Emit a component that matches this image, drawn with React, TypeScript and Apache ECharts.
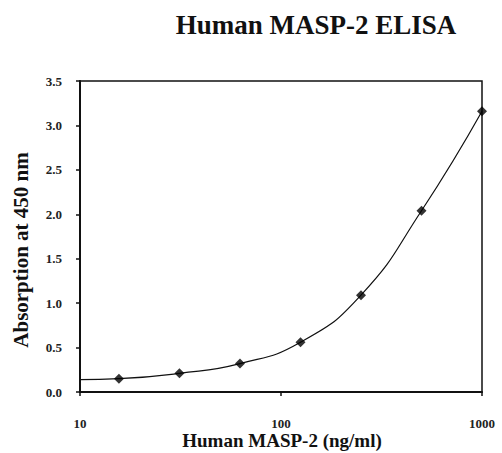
import React, { useEffect, useRef } from "react";
import * as echarts from "echarts";

const concentrations = [15.625, 31.25, 62.5, 125, 250, 500, 1000];
const absorbance = [0.15, 0.21, 0.32, 0.56, 1.09, 2.04, 3.16];
const fitStart = [10, 0.14];
const yTicks = ["0.0", "0.5", "1.0", "1.5", "2.0", "2.5", "3.0", "3.5"];
const xTicks = [10, 100, 1000];
const titleText = "Human MASP-2 ELISA";
const xName = "Human MASP-2 (ng/ml)";
const yName = "Absorption at 450 nm";

export default function App() {
  const ref = useRef<HTMLDivElement>(null);
  useEffect(() => {
    if (!ref.current) return;
    const chart = echarts.init(ref.current, null, { renderer: "svg" });
    const points = concentrations.map((c, i) => [c, absorbance[i]]);
    const serif = "'Liberation Serif', 'Times New Roman', serif";
    chart.setOption({
      animation: false,
      backgroundColor: "#ffffff",
      grid: {
        left: 80,
        right: 20,
        top: 81,
        bottom: 61,
        show: true,
        borderColor: "#111",
        borderWidth: 1.5,
        backgroundColor: "transparent",
      },
      xAxis: {
        type: "log",
        logBase: 10,
        min: xTicks[0],
        max: xTicks[xTicks.length - 1],
        axisLine: { show: true, lineStyle: { color: "#111", width: 2 } },
        axisTick: { show: true, inside: false, length: 4, lineStyle: { color: "#111", width: 1.5 } },
        minorTick: { show: false },
        splitLine: { show: false },
        axisLabel: {
          margin: 25,
          fontFamily: serif,
          fontSize: 13,
          fontWeight: "bold",
          color: "#222",
          formatter: (v: number) => String(Math.round(v)),
        },
      },
      yAxis: {
        type: "value",
        min: 0,
        max: 3.5,
        interval: 0.5,
        axisLine: { show: true, lineStyle: { color: "#111", width: 2 } },
        axisTick: { show: true, inside: false, length: 4, lineStyle: { color: "#111", width: 1.5 } },
        splitLine: { show: false },
        axisLabel: {
          margin: 18,
          fontFamily: serif,
          fontSize: 13,
          fontWeight: "bold",
          color: "#222",
          formatter: (v: number) => yTicks[Math.round(v / 0.5)] ?? v.toFixed(1),
        },
      },
      graphic: [
        {
          type: "text",
          x: 316,
          y: 25,
          style: {
            text: titleText,
            textAlign: "center",
            textVerticalAlign: "middle",
            font: `bold 27px ${serif}`,
            fill: "#111",
          },
        },
        {
          type: "text",
          x: 282,
          y: 440,
          style: {
            text: xName,
            textAlign: "center",
            textVerticalAlign: "middle",
            font: `bold 19px ${serif}`,
            fill: "#111",
          },
        },
        {
          type: "text",
          x: 21,
          y: 250,
          rotation: Math.PI / 2,
          style: {
            text: yName,
            textAlign: "center",
            textVerticalAlign: "middle",
            font: `bold 21px ${serif}`,
            fill: "#111",
          },
        },
      ],
      series: [
        {
          type: "line",
          data: [fitStart, ...points],
          smooth: 0.5,
          showSymbol: false,
          symbol: "none",
          lineStyle: { color: "#111", width: 1.2 },
          z: 2,
        },
        {
          type: "scatter",
          data: points,
          symbol: "diamond",
          symbolSize: 10,
          itemStyle: { color: "#000" },
          z: 3,
        },
      ],
    });
    return () => chart.dispose();
  }, []);
  return <div ref={ref} style={{ width: 502, height: 453, position: "absolute", left: 0, top: 0 }} />;
}
